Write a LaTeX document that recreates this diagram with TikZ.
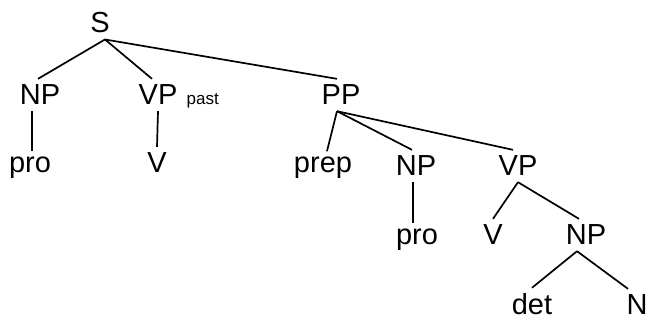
\documentclass[tikz,border=0pt]{standalone}
\usepackage{fontspec}
\setmainfont{Liberation Sans}
\begin{document}
\begin{tikzpicture}[x=1pt, y=-1pt,
    cat/.style={font=\fontsize{29}{31}\selectfont, inner xsep=0pt, inner ysep=6pt, anchor=base},
    sub/.style={font=\fontsize{17}{19}\selectfont, inner sep=0pt, anchor=base west},
    branch/.style={line width=1.7pt}]
            \useasboundingbox (0,0) rectangle (649,323);
            \node[cat] (S) at (100,33){S};
            \node[cat] (NPa) at (40,105){NP};
            \node[cat] (VPa) at (158,105){VP};
            \node[sub] (past) at ([xshift=9pt]VPa.base east){past};
            \node[cat] (PP) at (341,105){PP};
            \node[cat] (proa) at (30,173){pro};
            \node[cat] (Va) at (157,173){V};
            \node[cat] (prep) at (323,173){prep};
            \node[cat] (NPb) at (416,176){NP};
            \node[cat] (VPb) at (518,176){VP};
            \node[cat] (prob) at (417,245){pro};
            \node[cat] (Vb) at (493,245){V};
            \node[cat] (NPc) at (586,245){NP};
            \node[cat] (det) at (532,315){det};
            \node[cat] (N) at (637,315){N};
            \draw[branch] ([xshift=5pt]S.south) -- ([xshift=-2pt]NPa.north);
            \draw[branch] ([xshift=5pt]S.south) -- ([xshift=-6pt]VPa.north);
            \draw[branch] ([xshift=5pt]S.south) -- ([xshift=-4pt]PP.north);
            \draw[branch] ([xshift=-8pt]NPa.south) -- ([xshift=2pt]proa.north);
            \draw[branch] (VPa.south) -- (Va.north);
            \draw[branch] ([xshift=-4pt]PP.south) -- ([xshift=4pt]prep.north);
            \draw[branch] ([xshift=-4pt]PP.south) -- ([xshift=-4pt]NPb.north);
            \draw[branch] ([xshift=-4pt]PP.south) -- ([xshift=-5pt]VPb.north);
            \draw[branch] ([xshift=-3pt]NPb.south) -- ([xshift=-4pt]prob.north);
            \draw[branch] (VPb.south) -- (Vb.north);
            \draw[branch] (VPb.south) -- ([xshift=-7pt]NPc.north);
            \draw[branch] ([xshift=-9pt]NPc.south) -- (det.north);
            \draw[branch] ([xshift=-9pt]NPc.south) -- ([xshift=-9pt]N.north);
\end{tikzpicture}
\end{document}
